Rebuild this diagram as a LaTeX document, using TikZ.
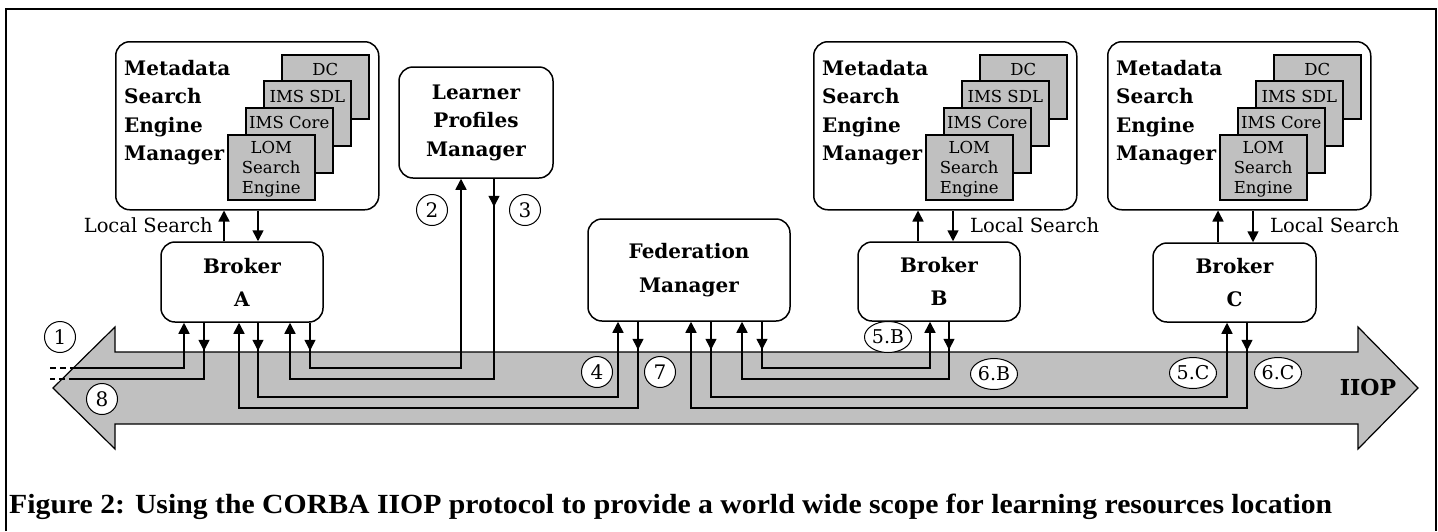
\documentclass[tikz,border=0pt]{standalone}
\usepackage{graphicx}
\usepackage{fontspec}
\setmainfont{DejaVu Serif}
\newfontfamily\captionfont{Liberation Serif}
\usetikzlibrary{arrows.meta,shapes.geometric}
\definecolor{panelgray}{HTML}{C0C0C0}

% One "Metadata Search Engine Manager" block: #1 = left edge, #2 = node name
\newcommand\engineblock[2]{%
  \node[box,anchor=north west,minimum width=263pt,minimum height=168pt] (#2) at (#1,41) {};
  \node[card,minimum width=87pt,minimum height=64pt] (#2dc)   at ({#1+166},54)  {};
  \node[card,minimum width=87pt,minimum height=65pt] (#2sdl)  at ({#1+148},80)  {};
  \node[card,minimum width=87pt,minimum height=65pt] (#2core) at ({#1+130},107) {};
  \node[card,minimum width=87pt,minimum height=65pt] (#2lom)  at ({#1+112},134) {};
  \node[cardtext,anchor=base]  at (#2dc.north |- 0,75)   {DC};
  \node[cardtext,anchor=base]  at (#2sdl.north |- 0,102) {IMS SDL};
  \node[cardtext,anchor=base]  at (#2core.north |- 0,128) {IMS Core};
  \node[cardtext,anchor=north] at (#2lom.north |- 0,141) {LOM\\Search\\Engine};
  \node[heading,anchor=north west] at ({#1+9},60) {Metadata\\Search\\Engine\\Manager};
}

\begin{document}
\begin{tikzpicture}[x=1pt,y=-1pt,
  box/.style={draw,line width=1.5pt,rounded corners=14pt,fill=white,inner sep=0pt},
  title/.style={font=\fontsize{20}{28.5}\selectfont\bfseries,align=center},
  heading/.style={font=\fontsize{20}{28.4}\selectfont\bfseries,align=left,inner sep=0pt},
  card/.style={draw,line width=1.5pt,fill=panelgray,inner sep=0pt,anchor=north west},
  cardtext/.style={font=\fontsize{16.5}{20}\selectfont,align=center,inner sep=0pt},
  wire/.style={line width=1.6pt},
  tip/.style={-{Triangle[width=11pt,length=11pt]}},
  num/.style={draw,circle,line width=1pt,fill=white,minimum size=31pt,inner sep=0pt,
              font=\fontsize{20}{20}\selectfont},
  tag/.style={draw,ellipse,line width=1pt,fill=white,minimum width=47pt,minimum height=31pt,
              inner sep=0pt,font=\fontsize{19}{19}\selectfont},
  lbl/.style={font=\fontsize{19.5}{22}\selectfont,inner sep=0pt}
]
\useasboundingbox (0,0) rectangle (1438,531);
\fill[white] (0,0) rectangle (1438,531);

% outer frame (open at the bottom)
\draw[line width=1.5pt] (6,531) -- (6,9) -- (1436,9) -- (1436,531);

% IIOP bus: double-headed block arrow
\filldraw[fill=panelgray,draw=black,line width=1.2pt]
  (53,388) -- (115,327) -- (115,352) -- (1358,352) -- (1358,327) -- (1418,388)
  -- (1358,449) -- (1358,424) -- (115,424) -- (115,449) -- cycle;
\node[font=\fontsize{22}{22}\selectfont\bfseries,anchor=base] (iiop) at (1368,395) {IIOP};

% search engine blocks
\engineblock{115}{mdA}
\engineblock{813}{mdB}
\engineblock{1107}{mdC}

% managers and brokers
\node[box,title,minimum width=154pt,minimum height=111pt] (lpm) at (476,122.5) {Learner\\Profiles\\Manager};
\node[box,title,minimum width=202pt,minimum height=102pt] (fed) at (689,270) {Federation\\[5.5pt]Manager};
\node[box,title,minimum width=162pt,minimum height=80pt] (brA) at (242,282) {Broker\\[4.5pt]A};
\node[box,title,minimum width=162pt,minimum height=79pt] (brB) at (939,281.5) {Broker\\[4.5pt]B};
\node[box,title,minimum width=163pt,minimum height=79pt] (brC) at (1234.5,282.5) {Broker\\[4.5pt]C};

% local searches
\draw[wire,tip] (brA.north -| 224,0) -- (mdA.south -| 224,0);
\draw[wire,tip] (mdA.south -| 258,0) -- (brA.north -| 258,0);
\draw[wire,tip] (brB.north -| 918,0) -- (mdB.south -| 918,0);
\draw[wire,tip] (mdB.south -| 953,0) -- (brB.north -| 953,0);
\draw[wire,tip] (brC.north -| 1218,0) -- (mdC.south -| 1218,0);
\draw[wire,tip] (mdC.south -| 1253,0) -- (brC.north -| 1253,0);
\node[lbl,anchor=base east] (lsA) at (213,232) {Local Search};
\node[lbl,anchor=base west] (lsB) at (970,232) {Local Search};
\node[lbl,anchor=base west] (lsC) at (1270,232) {Local Search};

% requests entering and leaving broker A from the outside
\coordinate (inA)  at (50,368);
\coordinate (outA) at (50,379);
\draw[wire,dashed,dash pattern=on 6pt off 4pt] (inA) -- ([xshift=25pt]inA);
\draw[wire,tip] ([xshift=25pt]inA) -| (brA.south -| 184,0);
\draw[wire] (brA.south -| 204,0) |- ([xshift=25pt]outA);
\draw[wire,dashed,dash pattern=on 6pt off 4pt] ([xshift=25pt]outA) -- (outA);
\draw[wire,tip] (brA.south -| 204,0) -- ++(0,28);

% broker A <-> learner profiles
\draw[wire,tip] (brA.south -| 310,0) -- (310,368) -| (lpm.south -| 461,0);
\draw[wire,tip] (brA.south -| 310,0) -- ++(0,28);
\draw[wire,tip] (lpm.south -| 494,0) -- (494,379) -| (brA.south -| 290,0);
\draw[wire,tip] (lpm.south -| 494,0) -- ++(0,28);

% broker A <-> federation manager
\draw[wire,tip] (brA.south -| 258,0) -- (258,397) -| (fed.south -| 618,0);
\draw[wire,tip] (brA.south -| 258,0) -- ++(0,28);
\draw[wire,tip] (fed.south -| 638,0) -- (638,408) -| (brA.south -| 239,0);
\draw[wire,tip] (fed.south -| 638,0) -- ++(0,28);

% federation manager <-> broker B
\draw[wire,tip] (fed.south -| 762,0) -- (762,368) -| (brB.south -| 930,0);
\draw[wire,tip] (fed.south -| 762,0) -- ++(0,28);
\draw[wire,tip] (brB.south -| 949,0) -- (949,379) -| (fed.south -| 742,0);
\draw[wire,tip] (brB.south -| 949,0) -- ++(0,28);

% federation manager <-> broker C
\draw[wire,tip] (fed.south -| 711,0) -- (711,397) -| (brC.south -| 1227,0);
\draw[wire,tip] (fed.south -| 711,0) -- ++(0,28);
\draw[wire,tip] (brC.south -| 1247,0) -- (1247,408) -| (fed.south -| 691,0);
\draw[wire,tip] (brC.south -| 1247,0) -- ++(0,28);

% step numbers
\node[num] (n1) at (60,337)  {1};
\node[num] (n2) at (432,210) {2};
\node[num] (n3) at (525,210) {3};
\node[num] (n4) at (597,372) {4};
\node[num] (n7) at (660,372) {7};
\node[num] (n8) at (102,399) {8};
\node[tag] (n5b) at (888,337)  {5.B};
\node[tag] (n6b) at (994,374)  {6.B};
\node[tag] (n5c) at (1193,373) {5.C};
\node[tag] (n6c) at (1278,373) {6.C};

% caption
\node[anchor=base west,inner sep=0pt] (caption) at (9,513)
  {\resizebox{1323pt}{19.5pt}{\captionfont\bfseries Figure 2: Using the CORBA IIOP protocol to provide a world wide scope for learning resources location}};
\end{tikzpicture}
\end{document}
